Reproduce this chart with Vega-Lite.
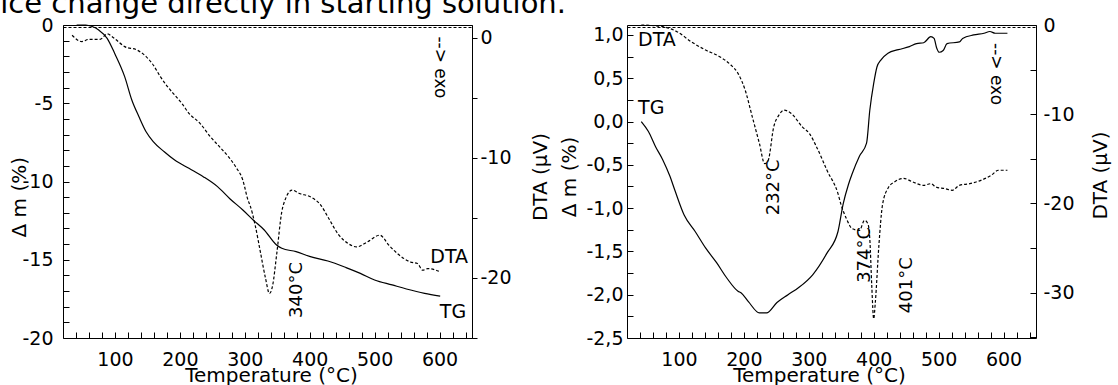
{
  "$schema": "https://vega.github.io/schema/vega-lite/v6.json",
  "background": "white",
  "padding": {"left": 0, "top": -11, "right": 0, "bottom": 0},
  "autosize": {"type": "pad"},
  "title": {"text": "ice change directly in starting solution.", "anchor": "start", "frame": "group", "dx": -62.7, "offset": -26, "baseline": "alphabetic", "fontSize": 29, "font": "DejaVu Sans", "fontWeight": "normal", "color": "black"},
  "config": {
    "font": "DejaVu Sans",
    "view": {"stroke": "black", "strokeWidth": 1},
    "axis": {"labelFont": "DejaVu Sans", "titleFont": "DejaVu Sans", "labelFontSize": 19, "titleFontSize": 20, "labelColor": "black", "titleColor": "black", "titleFontWeight": "normal", "domainColor": "black", "tickColor": "black", "tickWidth": 1, "tickOpacity": 1, "grid": false, "labelOverlap": false, "labelFlush": false, "labelBound": false, "zindex": 1}
  },
  "datasets": {
    "tgA": [{"T":41,"v":0},{"T":55,"v":0},{"T":65,"v":-0.1},{"T":75,"v":-0.32},{"T":88,"v":-0.85},{"T":100,"v":-1.85},{"T":115,"v":-3.3},{"T":126,"v":-4.79},{"T":137,"v":-5.86},{"T":148,"v":-6.82},{"T":159,"v":-7.45},{"T":176,"v":-8.1},{"T":192,"v":-8.63},{"T":214,"v":-9.16},{"T":236,"v":-9.69},{"T":258,"v":-10.33},{"T":277,"v":-11.1},{"T":297,"v":-11.82},{"T":313,"v":-12.46},{"T":330,"v":-13.1},{"T":349,"v":-14.06},{"T":357,"v":-14.27},{"T":379,"v":-14.48},{"T":401,"v":-14.8},{"T":428,"v":-15.08},{"T":456,"v":-15.5},{"T":478,"v":-15.87},{"T":500,"v":-16.29},{"T":527,"v":-16.61},{"T":549,"v":-16.87},{"T":577,"v":-17.15},{"T":601,"v":-17.32}],
    "dtaA": [{"T":34,"v":0.2},{"T":49,"v":-0.33},{"T":60,"v":-0.14},{"T":77,"v":-0.14},{"T":88,"v":0.31},{"T":99,"v":-0.06},{"T":115,"v":-0.75},{"T":134,"v":-1.03},{"T":148,"v":-1.58},{"T":159,"v":-2.28},{"T":170,"v":-3.25},{"T":181,"v":-4.08},{"T":192,"v":-4.78},{"T":203,"v":-5.47},{"T":214,"v":-6.3},{"T":231,"v":-7.13},{"T":247,"v":-8.25},{"T":261,"v":-9.08},{"T":275,"v":-9.92},{"T":286,"v":-10.75},{"T":297,"v":-11.86},{"T":305,"v":-13.53},{"T":308,"v":-13.94},{"T":316,"v":-15.61},{"T":324,"v":-17.83},{"T":332,"v":-20.05},{"T":338,"v":-21.3},{"T":343,"v":-20.6},{"T":349,"v":-18.1},{"T":357,"v":-14.5},{"T":363,"v":-13.38},{"T":373,"v":-12.69},{"T":384,"v":-12.97},{"T":401,"v":-13.25},{"T":417,"v":-13.94},{"T":428,"v":-14.92},{"T":445,"v":-16.44},{"T":459,"v":-17.13},{"T":472,"v":-17.42},{"T":489,"v":-17.0},{"T":508,"v":-16.44},{"T":522,"v":-17.28},{"T":538,"v":-18.1},{"T":555,"v":-18.67},{"T":566,"v":-18.8},{"T":574,"v":-19.36},{"T":582,"v":-19.22},{"T":599,"v":-19.44}],
    "tgB": [{"T":42,"v":0.0},{"T":53,"v":-0.115},{"T":64,"v":-0.29},{"T":75,"v":-0.44},{"T":86,"v":-0.63},{"T":94,"v":-0.8},{"T":108,"v":-1.08},{"T":125,"v":-1.27},{"T":141,"v":-1.46},{"T":158,"v":-1.63},{"T":174,"v":-1.81},{"T":191,"v":-1.96},{"T":196,"v":-1.98},{"T":207,"v":-2.08},{"T":224,"v":-2.21},{"T":235,"v":-2.21},{"T":251,"v":-2.09},{"T":268,"v":-2.0},{"T":284,"v":-1.92},{"T":306,"v":-1.77},{"T":328,"v":-1.52},{"T":345,"v":-1.27},{"T":353,"v":-0.95},{"T":361,"v":-0.73},{"T":367,"v":-0.6},{"T":378,"v":-0.4},{"T":389,"v":-0.25},{"T":394,"v":0.13},{"T":400,"v":0.44},{"T":405,"v":0.63},{"T":411,"v":0.71},{"T":422,"v":0.79},{"T":438,"v":0.83},{"T":455,"v":0.865},{"T":466,"v":0.9},{"T":477,"v":0.91},{"T":488,"v":0.98},{"T":493,"v":0.96},{"T":497,"v":0.85},{"T":501,"v":0.8},{"T":507,"v":0.82},{"T":513,"v":0.9},{"T":532,"v":0.92},{"T":537,"v":0.96},{"T":554,"v":1.0},{"T":570,"v":1.02},{"T":579,"v":1.04},{"T":587,"v":1.02},{"T":606,"v":1.02}],
    "dtaB": [{"T":42,"v":0},{"T":75,"v":-0.19},{"T":97,"v":-0.75},{"T":119,"v":-1.88},{"T":141,"v":-2.81},{"T":163,"v":-3.56},{"T":180,"v":-4.49},{"T":191,"v":-5.43},{"T":202,"v":-7.3},{"T":213,"v":-10.3},{"T":224,"v":-13.3},{"T":232,"v":-15.54},{"T":237.5,"v":-15.17},{"T":246,"v":-11.42},{"T":254,"v":-10.11},{"T":262,"v":-9.55},{"T":273,"v":-9.92},{"T":290,"v":-11.42},{"T":301,"v":-12.17},{"T":312,"v":-13.67},{"T":328,"v":-16.29},{"T":345,"v":-18.91},{"T":350,"v":-20.22},{"T":358,"v":-21.72},{"T":367,"v":-22.84},{"T":378,"v":-23.03},{"T":386,"v":-21.91},{"T":391,"v":-22.28},{"T":394,"v":-23.97},{"T":397,"v":-29.2},{"T":400,"v":-32.95},{"T":402.5,"v":-31.1},{"T":408,"v":-24.7},{"T":413.5,"v":-20.2},{"T":422,"v":-18.3},{"T":432,"v":-17.6},{"T":446,"v":-17.2},{"T":460,"v":-17.6},{"T":477,"v":-17.98},{"T":488,"v":-17.8},{"T":496,"v":-18.17},{"T":510,"v":-18.35},{"T":521,"v":-18.54},{"T":532,"v":-17.98},{"T":548,"v":-17.79},{"T":565,"v":-17.42},{"T":581,"v":-16.85},{"T":592,"v":-16.29},{"T":606,"v":-16.29}],
    "labA_tg_h": [{"T":641,"v":-18.32,"label":"TG"}],
    "labA_tg_r": [{"T":381,"v":-16.93,"label":"340°C"}],
    "labA_dta_h": [{"T":644,"v":-18.25,"label":"DTA"}],
    "labA_exo": [{"T":600,"v":0.1,"label":"--> exo"}],
    "labB_tg_h": [{"T":37,"v":0.155,"label":"TG"}],
    "labB_tg_r": [{"T":246,"v":-0.76,"label":"232°C"},{"T":387,"v":-1.54,"label":"374°C"},{"T":451,"v":-1.89,"label":"401°C"}],
    "labB_dta_h": [{"T":37,"v":-1.69,"label":"DTA"}],
    "labB_exo": [{"T":588,"v":-2.02,"label":"--> exo"}]
  },
  "spacing": 155,
  "bounds": "flush",
  "hconcat": [
    {
      "width": 409,
      "height": 313,
      "layer": [
        {
          "encoding": {
            "x": {"field": "T", "type": "quantitative", "scale": {"domain": [20, 650], "nice": false, "zero": false},
              "axis": {"orient": "bottom", "zindex": 1, "labelOverlap": false, "ticks": true, "domain": false, "offset": -6, "values": [40,60,80,100,120,140,160,180,200,220,240,260,280,300,320,340,360,380,400,420,440,460,480,500,520,540,560,580,600,620,640], "labelExpr": "datum.value % 100 === 0 ? datum.label : ''", "tickSize": 6, "labelPadding": 12, "title": "Temperature (°C)", "titleX": 208, "titleY": 49.7, "titleBaseline": "alphabetic", "titleAnchor": "middle"}},
            "y": {"field": "v", "type": "quantitative", "scale": {"domain": [-20, 0], "nice": false, "zero": false},
              "axis": {"orient": "left", "zindex": 1, "labelOverlap": false, "ticks": true, "domain": false, "offset": -6, "values": [0,-1,-2,-3,-4,-5,-6,-7,-8,-9,-10,-11,-12,-13,-14,-15,-16,-17,-18,-19,-20], "labelExpr": "datum.value % 5 === 0 ? (datum.value < 0 ? '-' : '') + abs(datum.value) : ''", "tickSize": 6, "labelPadding": 10, "title": "Δ m (%)", "titleAngle": 270, "titleX": -43.7, "titleY": 171.7, "titleBaseline": "alphabetic", "titleAlign": "center"}}
          },
          "layer": [
            {
              "data": {"name": "tgA"},
              "mark": {"type": "line", "color": "black", "strokeWidth": 1.2, "interpolate": "monotone"}
            },
            {
              "data": {"name": "labA_tg_h"},
              "mark": {"type": "text", "align": "right", "baseline": "middle", "fontSize": 19, "font": "DejaVu Sans", "color": "black"},
              "encoding": {"text": {"field": "label"}}
            },
            {
              "data": {"name": "labA_tg_r"},
              "mark": {"type": "text", "align": "center", "baseline": "middle", "angle": 270, "fontSize": 18, "font": "DejaVu Sans", "color": "black"},
              "encoding": {"text": {"field": "label"}}
            }
          ]
        },
        {
          "encoding": {
            "x": {"field": "T", "type": "quantitative", "scale": {"domain": [20, 650], "nice": false, "zero": false},
              "axis": {"orient": "top", "zindex": 1, "labels": false, "ticks": false, "title": null, "domain": true, "domainDash": [3, 2], "offset": -2}},
            "y": {"field": "v", "type": "quantitative", "scale": {"domain": [-25, 1.05], "nice": false, "zero": false},
              "axis": {"orient": "right", "zindex": 1, "labelOverlap": false, "ticks": true, "values": [0,-5,-10,-15,-20,-25], "labelExpr": "datum.value % 10 === 0 ? (datum.value < 0 ? '-' : '') + abs(datum.value) : ''", "tickSize": 5, "labelPadding": 3, "title": "DTA (μV)", "titleAngle": 270, "titleX": 74.3, "titleY": 151.5, "titleBaseline": "alphabetic", "titleAlign": "center"}}
          },
          "layer": [
            {
              "data": {"name": "dtaA"},
              "mark": {"type": "line", "color": "black", "strokeWidth": 1.2, "strokeDash": [3, 2], "interpolate": "monotone"}
            },
            {
              "data": {"name": "labA_dta_h"},
              "mark": {"type": "text", "align": "right", "baseline": "middle", "fontSize": 19, "font": "DejaVu Sans", "color": "black"},
              "encoding": {"text": {"field": "label"}}
            },
            {
              "data": {"name": "labA_exo"},
              "mark": {"type": "text", "align": "left", "baseline": "middle", "angle": 90, "fontSize": 17, "font": "DejaVu Sans", "color": "black"},
              "encoding": {"text": {"field": "label"}}
            }
          ]
        }
      ],
      "resolve": {"scale": {"y": "independent"}, "axis": {"y": "independent"}}
    },
    {
      "width": 409,
      "height": 313,
      "layer": [
        {
          "encoding": {
            "x": {"field": "T", "type": "quantitative", "scale": {"domain": [20, 650], "nice": false, "zero": false},
              "axis": {"orient": "bottom", "zindex": 1, "labelOverlap": false, "ticks": true, "domain": false, "offset": -6, "values": [40,60,80,100,120,140,160,180,200,220,240,260,280,300,320,340,360,380,400,420,440,460,480,500,520,540,560,580,600,620,640], "labelExpr": "datum.value % 100 === 0 ? datum.label : ''", "tickSize": 6, "labelPadding": 12, "title": "Temperature (°C)", "titleX": 192, "titleY": 49.7, "titleBaseline": "alphabetic", "titleAnchor": "middle"}},
            "y": {"field": "v", "type": "quantitative", "scale": {"domain": [-2.5, 1.115], "nice": false, "zero": false},
              "axis": {"orient": "left", "zindex": 1, "labelOverlap": false, "ticks": true, "domain": false, "offset": -6, "values": [1,0.75,0.5,0.25,0,-0.25,-0.5,-0.75,-1,-1.25,-1.5,-1.75,-2,-2.25,-2.5], "labelExpr": "abs(datum.value * 2 - round(datum.value * 2)) < 0.000001 ? (datum.value < -0.000001 ? '-' : '') + replace(format(abs(datum.value), '.1f'), '.', ',') : ''", "tickSize": 6, "labelPadding": 4, "title": "Δ m (%)", "titleAngle": 270, "titleX": -57.7, "titleY": 151.5, "titleBaseline": "alphabetic", "titleAlign": "center"}}
          },
          "layer": [
            {
              "data": {"name": "tgB"},
              "mark": {"type": "line", "color": "black", "strokeWidth": 1.2, "interpolate": "monotone"}
            },
            {
              "data": {"name": "labB_tg_h"},
              "mark": {"type": "text", "align": "left", "baseline": "middle", "fontSize": 19, "font": "DejaVu Sans", "color": "black"},
              "encoding": {"text": {"field": "label"}}
            },
            {
              "data": {"name": "labB_tg_r"},
              "mark": {"type": "text", "align": "center", "baseline": "middle", "angle": 270, "fontSize": 18, "font": "DejaVu Sans", "color": "black"},
              "encoding": {"text": {"field": "label"}}
            }
          ]
        },
        {
          "encoding": {
            "x": {"field": "T", "type": "quantitative", "scale": {"domain": [20, 650], "nice": false, "zero": false},
              "axis": {"orient": "top", "zindex": 1, "labels": false, "ticks": false, "title": null, "domain": true, "domainDash": [3, 2], "offset": -2}},
            "y": {"field": "v", "type": "quantitative", "scale": {"domain": [-35.1, 0], "nice": false, "zero": false},
              "axis": {"orient": "right", "zindex": 1, "labelOverlap": false, "ticks": true, "domain": false, "offset": -6, "values": [0,-5,-10,-15,-20,-25,-30,-35], "labelExpr": "datum.value % 10 === 0 ? (datum.value < 0 ? '-' : '') + abs(datum.value) : ''", "tickSize": 6, "labelPadding": 7, "title": "DTA (μV)", "titleAngle": 270, "titleX": 76.7, "titleY": 150, "titleBaseline": "alphabetic", "titleAlign": "center"}}
          },
          "layer": [
            {
              "data": {"name": "dtaB"},
              "mark": {"type": "line", "color": "black", "strokeWidth": 1.2, "strokeDash": [3, 2], "interpolate": "monotone"}
            },
            {
              "data": {"name": "labB_dta_h"},
              "mark": {"type": "text", "align": "left", "baseline": "middle", "fontSize": 19, "font": "DejaVu Sans", "color": "black"},
              "encoding": {"text": {"field": "label"}}
            },
            {
              "data": {"name": "labB_exo"},
              "mark": {"type": "text", "align": "left", "baseline": "middle", "angle": 90, "fontSize": 17, "font": "DejaVu Sans", "color": "black"},
              "encoding": {"text": {"field": "label"}}
            }
          ]
        }
      ],
      "resolve": {"scale": {"y": "independent"}, "axis": {"y": "independent"}}
    }
  ]
}
